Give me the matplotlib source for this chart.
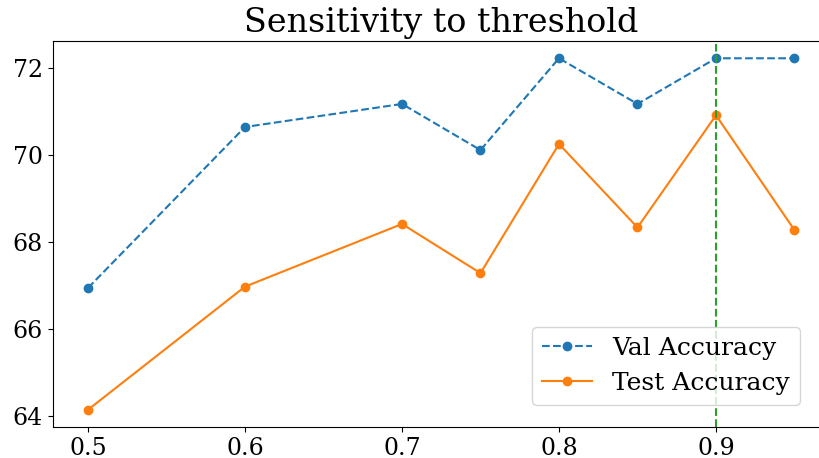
import matplotlib
matplotlib.use("Agg")
import matplotlib.pyplot as plt

thresholds = [0.5, 0.6, 0.7, 0.75, 0.8, 0.85, 0.9, 0.95]
val_acc = [66.94, 70.64, 71.17, 70.11, 72.22, 71.17, 72.22, 72.22]
test_acc = [64.14, 66.97, 68.41, 67.28, 70.25, 68.33, 70.91, 68.27]
best_threshold = 0.9

plt.rcParams['font.family'] = ['DejaVu Serif']

fig = plt.figure(figsize=(8.2, 4.58), dpi=100)
W, H = 820, 458
ax = fig.add_axes([52.7 / W, (H - 427.3) / H, 777.1 / W, 386.6 / H])

ax.plot(thresholds, val_acc, 'o--', color='#1f77b4', label='Val Accuracy')
ax.plot(thresholds, test_acc, 'o-', color='#ff7f0e', label='Test Accuracy')
ax.axvline(best_threshold, color='#2ca02c', linestyle='--')

ax.set_xticks([0.5, 0.6, 0.7, 0.8, 0.9])
ax.set_yticks([64, 66, 68, 70, 72])
ax.tick_params(labelsize=17)
ax.set_title('Sensitivity to threshold', fontsize=24)
ax.legend(loc='lower right', fontsize=18, bbox_to_anchor=(800 / W, (H - 405) / H),
          bbox_transform=fig.transFigure, borderaxespad=0)

fig.savefig('out.png', dpi=100)
